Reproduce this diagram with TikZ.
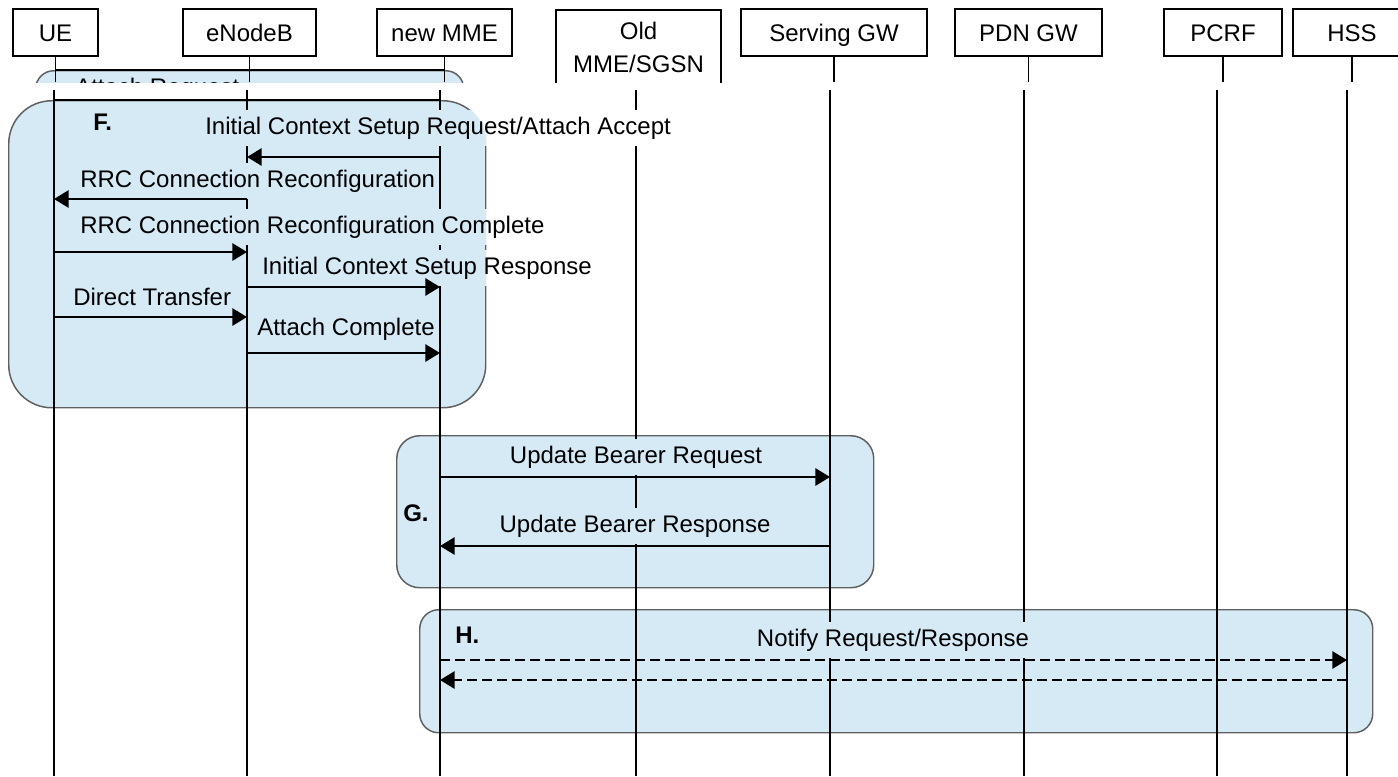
\documentclass[tikz,border=0pt]{standalone}
\usepackage{fontspec}
\setmainfont{Liberation Sans}
\usetikzlibrary{arrows.meta}
\pgfdeclarelayer{fg}
\pgfsetlayers{main,fg}

\definecolor{stagefill}{RGB}{214,234,246}
\definecolor{stageline}{RGB}{95,95,95}

% paint over everything lying under a label: white outside the stage, stage colour inside
\newcommand\clearunder[3]{%
  \fill[white] (#1.south west) rectangle (#1.north east);
  \begin{scope}
    \clip[rounded corners=#3] (#2.north west) rectangle (#2.south east);
    \fill[stagefill] (#1.south west) rectangle (#1.north east);
  \end{scope}}

\begin{document}
\begin{tikzpicture}[x=0.75pt,y=-0.75pt,
  every node/.style={font=\fontsize{18}{24.75}\selectfont},
  actorbox/.style={draw=black, line width=1.3pt, inner sep=0pt, align=center},
  actor/.style={actorbox, minimum height=35.25pt, text height=12.75pt, text depth=0pt},
  life/.style={line width=1.2pt},
  stage/.style={draw=stageline, fill=stagefill, line width=1.1pt, inner sep=0pt},
  msg/.style={line width=1.5pt, -{Triangle[length=11pt,width=13pt]}},
  dmsg/.style={msg, dash pattern=on 7.5pt off 3.75pt},
  lbl/.style={inner xsep=1.5pt, inner ysep=4.875pt, text height=12.75pt, text depth=3.75pt},
  tag/.style={font=\fontsize{18}{22}\selectfont\bfseries, inner sep=0pt, anchor=base west}]

\useasboundingbox (0,0) rectangle (1398,776);
\clip (0,0) rectangle (1398,776);

% ---------- upper strip: participants ----------
\begin{scope}
  \clip (0,0) rectangle (1398,82);
  \coordinate (cut) at (0,82);
  \coordinate (topln) at (0,70);
  \node[stage, rounded corners=13.5pt, anchor=north west,
        minimum width=321pt, minimum height=90pt] (boxE) at (35,70) {};
  \node[anchor=base west, inner sep=0pt] (attreq) at (75,95) {Attach Request};

  \node[actor, minimum width=63.75pt]  (ue)   at (55.5,32.5)  {UE};
  \node[actor, minimum width=99.75pt]  (enb)  at (249.5,32.5) {eNodeB};
  \node[actor, minimum width=101.25pt] (mme)  at (444.5,32.5) {new MME};
  \node[actorbox, minimum width=123.75pt, minimum height=57pt, anchor=north]
        (old)  at (638.5,9) {Old\\MME/SGSN};
  \node[actor, minimum width=139.5pt]  (sgw)  at (834,32.5)   {Serving GW};
  \node[actor, minimum width=110.25pt] (pdn)  at (1028.5,32.5){PDN GW};
  \node[actor, minimum width=88.5pt]   (pcrf) at (1223,32.5)  {PCRF};
  \node[actor, minimum width=88.5pt]   (hss)  at (1352,32.5)  {HSS};

  \foreach \p in {ue,enb,mme,sgw,pdn,pcrf,hss}
    \draw[life] (\p.south) -- (\p.south |- cut);
  \draw[life] (ue.south |- topln) -- (mme.south |- topln);
\end{scope}

% ---------- lower part ----------
\coordinate (bot) at (0,776);
\coordinate (ueL)   at (54,90);
\coordinate (enbL)  at (247,90);
\coordinate (mmeL)  at (440,90);
\coordinate (oldL)  at (636,90);
\coordinate (sgwL)  at (830,90);
\coordinate (pdnL)  at (1024,90);
\coordinate (pcrfL) at (1217,90);
\coordinate (hssL)  at (1347,90);

% stage boxes
\node[stage, rounded corners=32.25pt, anchor=north west,
      minimum width=357.75pt, minimum height=230.25pt] (boxF) at (8,100) {};
\node[stage, rounded corners=17.25pt, anchor=north west,
      minimum width=357.75pt, minimum height=114pt] (boxG) at (396,435) {};
\node[stage, rounded corners=14.25pt, anchor=north west,
      minimum width=714.75pt, minimum height=92.25pt] (boxH) at (419,609) {};

% lifelines
\foreach \p in {ueL,enbL,mmeL,oldL,sgwL,pdnL,pcrfL,hssL}
  \draw[life] (\p) -- (\p |- bot);
\coordinate (r0) at (0,100);
\draw[life] (ueL |- r0) -- (mmeL |- r0);

% message labels
\begin{pgfonlayer}{fg}
  \node[lbl, anchor=base west] (t1) at (203,134) {Initial Context Setup Request/Attach Accept};
  \node[lbl, anchor=base west] (t2) at (78,187)  {RRC Connection Reconfiguration};
  \node[lbl, anchor=base west] (t3) at (78,233)  {RRC Connection Reconfiguration Complete};
  \node[lbl, anchor=base west] (t4) at (260,274) {Initial Context Setup Response};
  \node[lbl, anchor=base west] (t5) at (71,305)  {Direct Transfer};
  \node[lbl, anchor=base west] (t6) at (255,335) {Attach Complete};
  \node[lbl, anchor=base] (t7) at (636,463) {Update Bearer Request};
  \node[lbl, anchor=base] (t8) at (635,532) {Update Bearer Response};
  \node[lbl, anchor=base] (t9) at (893,646) {Notify Request/Response};

  \node[tag] (tF) at (93,130)  {F.};
  \node[tag] (tG) at (403,521) {G.};
  \node[tag] (tH) at (455,643) {H.};
\end{pgfonlayer}

\foreach \t in {t1,t2,t3,t4,t5,t6} { \clearunder{\t}{boxF}{32.25pt} }
\foreach \t in {t7,t8} { \clearunder{\t}{boxG}{17.25pt} }
\clearunder{t9}{boxH}{14.25pt}

% messages
\coordinate (m1) at (0,157);
\coordinate (m2) at (0,199);
\coordinate (m3) at (0,252);
\coordinate (m4) at (0,287);
\coordinate (m5) at (0,317);
\coordinate (m6) at (0,353);
\coordinate (m7) at (0,477);
\coordinate (m8) at (0,546);
\coordinate (m9) at (0,660);
\coordinate (m10) at (0,680);

\draw[msg] (mmeL |- m1) -- (enbL |- m1);
\draw[msg] (enbL |- m2) -- (ueL |- m2);
\draw[msg] (ueL |- m3) -- (enbL |- m3);
\draw[msg] (enbL |- m4) -- (mmeL |- m4);
\draw[msg] (ueL |- m5) -- (enbL |- m5);
\draw[msg] (enbL |- m6) -- (mmeL |- m6);
\draw[msg] (mmeL |- m7) -- (sgwL |- m7);
\draw[msg] (sgwL |- m8) -- (mmeL |- m8);
\draw[dmsg] (mmeL |- m9) -- (hssL |- m9);
\draw[dmsg] (hssL |- m10) -- (mmeL |- m10);
\end{tikzpicture}
\end{document}
